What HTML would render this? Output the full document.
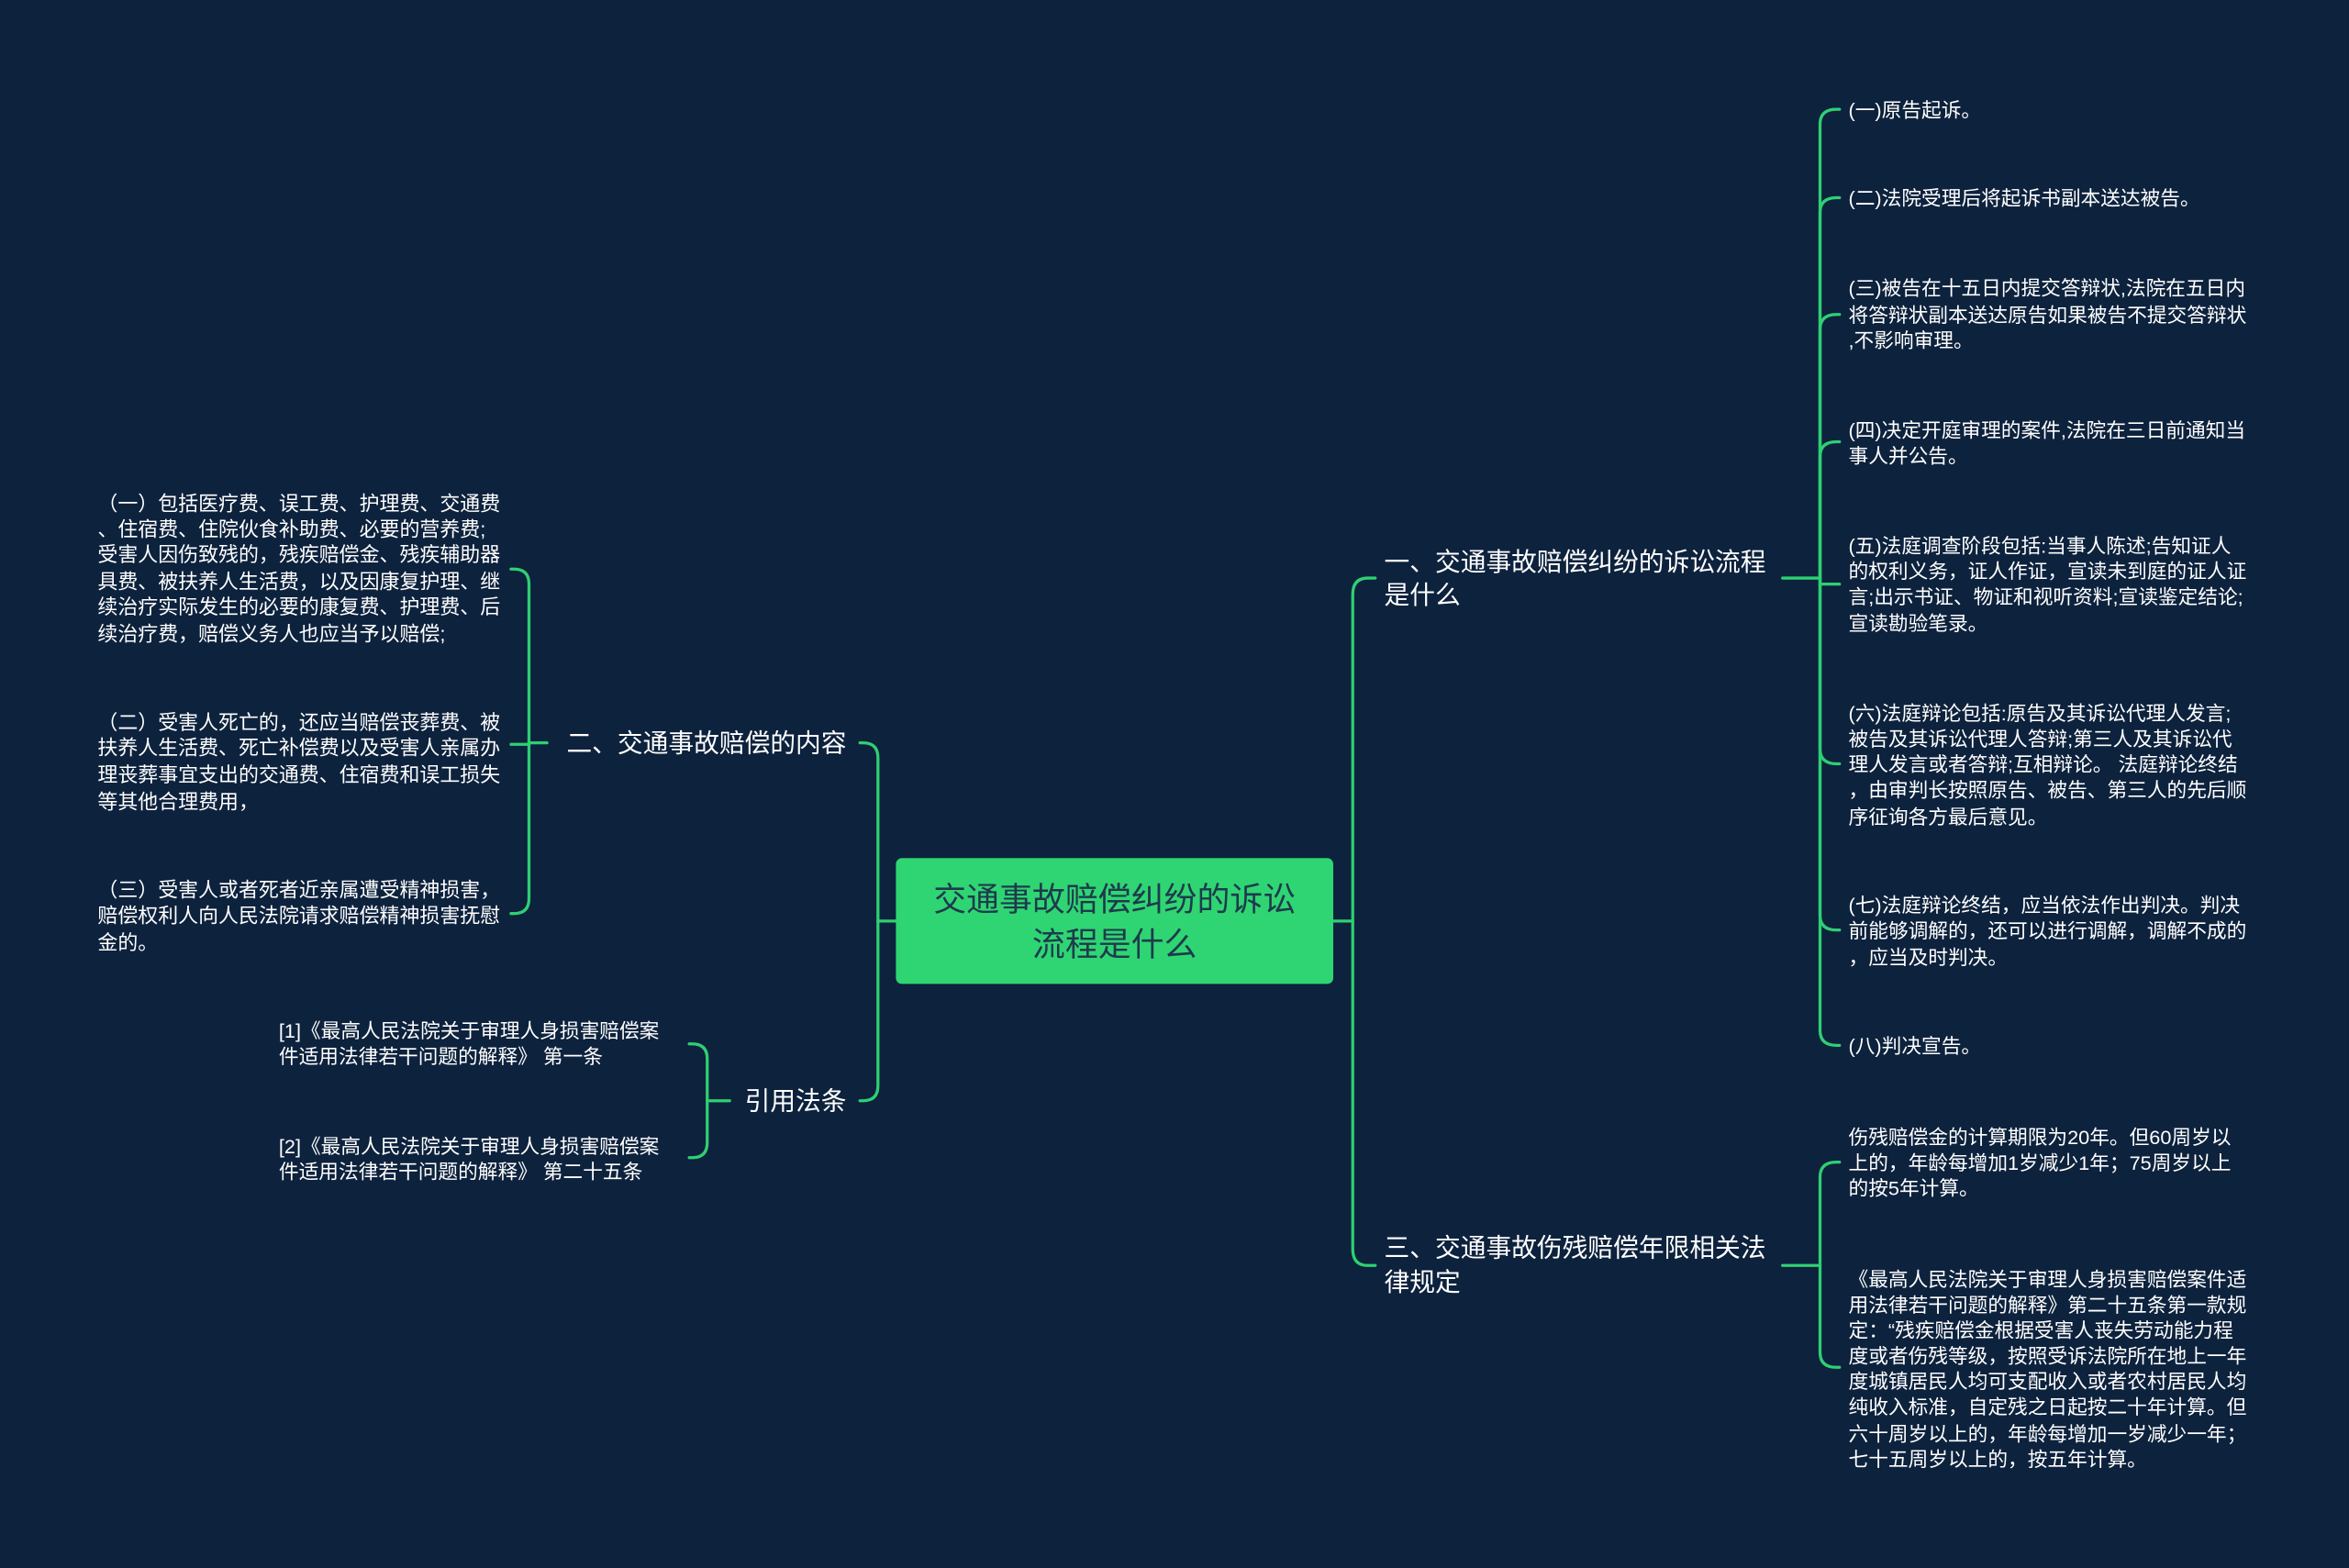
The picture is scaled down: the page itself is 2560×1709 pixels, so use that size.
<!DOCTYPE html>
<html><head><meta charset="utf-8"><style>
html,body{margin:0;padding:0;background:#0d223d;}
svg{display:block}
text{font-family:"Liberation Sans","Noto Sans CJK SC",sans-serif;fill:#fff}
.l{font-size:13.3px}
.ll{font-size:13.45px}
.b{font-size:17px}
</style></head><body>
<svg width="2560" height="1709" viewBox="0 0 1568 1047" xmlns="http://www.w3.org/2000/svg">
<rect width="1568" height="1047" fill="#0d223d"/>
<g fill="none" stroke="#2fcf73" stroke-width="2" stroke-linecap="round">
<path d="M890 615 H903"/>
<path d="M903 615 V397 Q903 386 913 386 H918"/>
<path d="M903 615 V834 Q903 845 913 845 H918"/>
<path d="M1190 386 H1215"/>
<path d="M1215 386 V83 Q1215 73 1226 73 H1228"/>
<path d="M1215 386 V142 Q1215 132 1226 132 H1228"/>
<path d="M1215 386 V220 Q1215 210 1226 210 H1228"/>
<path d="M1215 386 V305 Q1215 295 1226 295 H1228"/>
<path d="M1215 386 V390 H1228"/>
<path d="M1215 386 V500 Q1215 510 1226 510 H1228"/>
<path d="M1215 386 V611 Q1215 621 1226 621 H1228"/>
<path d="M1215 386 V688 Q1215 698 1226 698 H1228"/>
<path d="M1190 845 H1215"/>
<path d="M1215 845 V786 Q1215 776 1226 776 H1228"/>
<path d="M1215 845 V903 Q1215 913 1226 913 H1228"/>
<path d="M598 615 H586"/>
<path d="M586 615 V506 Q586 496 576 496 H574"/>
<path d="M586 615 V725 Q586 735 576 735 H574"/>
<path d="M365 496 H353"/>
<path d="M353 496 V390 Q353 380 343 380 H341"/>
<path d="M353 496 V497 H341"/>
<path d="M353 496 V600 Q353 610 343 610 H341"/>
<path d="M487 735 H472"/>
<path d="M472 735 V707 Q472 697 462 697 H460"/>
<path d="M472 735 V763 Q472 773 462 773 H460"/>
</g>
<rect x="598" y="573" width="292" height="84" rx="4" fill="#2fd573"/>
<text x="744" y="608" text-anchor="middle" style="font-size:22px;fill:#1e3a4c">交通事故赔偿纠纷的诉讼</text>
<text x="744" y="638" text-anchor="middle" style="font-size:22px;fill:#1e3a4c">流程是什么</text>
<text class="b" x="924" y="381">一、交通事故赔偿纠纷的诉讼流程</text>
<text class="b" x="924" y="403">是什么</text>
<text class="b" x="924" y="839">三、交通事故伤残赔偿年限相关法</text>
<text class="b" x="924" y="862">律规定</text>
<text class="b" x="565" y="502" text-anchor="end">二、交通事故赔偿的内容</text>
<text class="b" x="565" y="741" text-anchor="end">引用法条</text>
<g class="l">
<text x="1234" y="78">(一)原告起诉。</text>
<text x="1234" y="137">(二)法院受理后将起诉书副本送达被告。</text>
<text x="1234" y="197">(三)被告在十五日内提交答辩状,法院在五日内</text>
<text x="1234" y="215">将答辩状副本送达原告如果被告不提交答辩状</text>
<text x="1234" y="232">,不影响审理。</text>
<text x="1234" y="292">(四)决定开庭审理的案件,法院在三日前通知当</text>
<text x="1234" y="309">事人并公告。</text>
<text x="1234" y="369">(五)法庭调查阶段包括:当事人陈述;告知证人</text>
<text x="1234" y="386">的权利义务，证人作证，宣读未到庭的证人证</text>
<text x="1234" y="403">言;出示书证、物证和视听资料;宣读鉴定结论;</text>
<text x="1234" y="421">宣读勘验笔录。</text>
<text x="1234" y="481">(六)法庭辩论包括:原告及其诉讼代理人发言;</text>
<text x="1234" y="498">被告及其诉讼代理人答辩;第三人及其诉讼代</text>
<text x="1234" y="515">理人发言或者答辩;互相辩论。 法庭辩论终结</text>
<text x="1234" y="532">，由审判长按照原告、被告、第三人的先后顺</text>
<text x="1234" y="550">序征询各方最后意见。</text>
<text x="1234" y="609">(七)法庭辩论终结，应当依法作出判决。判决</text>
<text x="1234" y="626">前能够调解的，还可以进行调解，调解不成的</text>
<text x="1234" y="644">，应当及时判决。</text>
<text x="1234" y="703">(八)判决宣告。</text>
<text x="1234" y="764">伤残赔偿金的计算期限为20年。但60周岁以</text>
<text x="1234" y="781">上的，年龄每增加1岁减少1年；75周岁以上</text>
<text x="1234" y="798">的按5年计算。</text>
<text x="1234" y="859">《最高人民法院关于审理人身损害赔偿案件适</text>
<text x="1234" y="876">用法律若干问题的解释》第二十五条第一款规</text>
<text x="1234" y="893">定：“残疾赔偿金根据受害人丧失劳动能力程</text>
<text x="1234" y="910">度或者伤残等级，按照受诉法院所在地上一年</text>
<text x="1234" y="927">度城镇居民人均可支配收入或者农村居民人均</text>
<text x="1234" y="944">纯收入标准，自定残之日起按二十年计算。但</text>
<text x="1234" y="962">六十周岁以上的，年龄每增加一岁减少一年；</text>
<text x="1234" y="979">七十五周岁以上的，按五年计算。</text>
</g>
<g class="ll">
<text x="65" y="341">（一）包括医疗费、误工费、护理费、交通费</text>
<text x="65" y="358">、住宿费、住院伙食补助费、必要的营养费;</text>
<text x="65" y="375">受害人因伤致残的，残疾赔偿金、残疾辅助器</text>
<text x="65" y="393">具费、被扶养人生活费，以及因康复护理、继</text>
<text x="65" y="410">续治疗实际发生的必要的康复费、护理费、后</text>
<text x="65" y="428">续治疗费，赔偿义务人也应当予以赔偿;</text>
<text x="65" y="487">（二）受害人死亡的，还应当赔偿丧葬费、被</text>
<text x="65" y="504">扶养人生活费、死亡补偿费以及受害人亲属办</text>
<text x="65" y="522">理丧葬事宜支出的交通费、住宿费和误工损失</text>
<text x="65" y="540">等其他合理费用，</text>
<text x="65" y="599">（三）受害人或者死者近亲属遭受精神损害，</text>
<text x="65" y="616">赔偿权利人向人民法院请求赔偿精神损害抚慰</text>
<text x="65" y="634">金的。</text>
</g>
<g class="l">
<text x="186" y="693">[1]《最高人民法院关于审理人身损害赔偿案</text>
<text x="186" y="710">件适用法律若干问题的解释》 第一条</text>
<text x="186" y="770">[2]《最高人民法院关于审理人身损害赔偿案</text>
<text x="186" y="787">件适用法律若干问题的解释》 第二十五条</text>
</g>
</svg>
</body></html>
